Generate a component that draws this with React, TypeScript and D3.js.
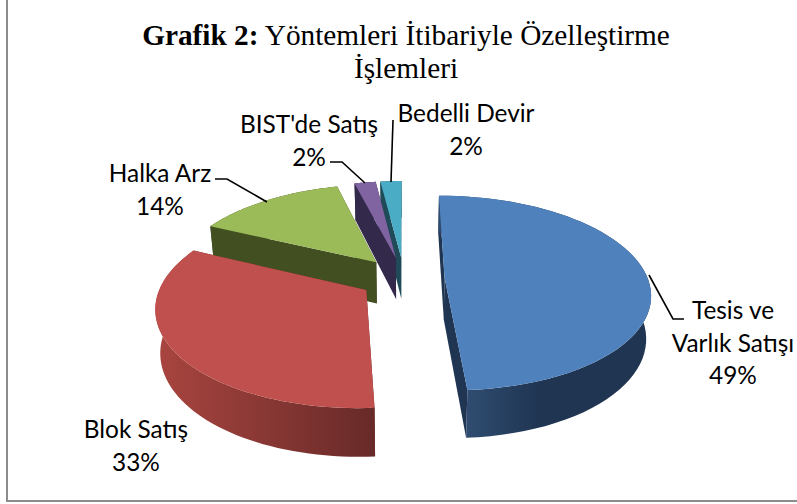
import React from "react";
import * as d3 from "d3";

const W = 797, H = 504;
const categories = ["Tesis ve Varlık Satışı", "Blok Satış", "Halka Arz", "BIST'de Satış", "Bedelli Devir"];
const values = [49, 33, 14, 2, 2];
const explode = [0.2, 0.22, 0.22, 0.22, 0.22];
const topColors = ["#4f81bd", "#c0504d", "#9bbb59", "#8064a2", "#4bacc6"];
const sideColors = ["#1f3552", "#672a28", "#414f21", "#33294a", "#1f4a57"];
const sideLight = ["#2f4c70", "#a8443f", "#414f21", "#33294a", "#1f4a57"];
const labelLines = [["Tesis ve", "Varlık Satışı", "49%"], ["Blok Satış", "33%"], ["Halka Arz", "14%"], ["BIST'de Satış", "2%"], ["Bedelli Devir", "2%"]];
const labelAnchors = [[733, 319], [136, 438], [160, 182], [309, 133], [466, 122]];
const leaders = [
  [[649, 275], [673, 319], [684, 319]],
  [],
  [[267, 202], [227, 179], [215, 179]],
  [[365, 183], [342, 162], [330, 162]],
  [[391, 182], [393, 120]],
];

// 3D projection parameters
const VX = 404, CY = 278, RX = 203, RY = 95, PERSP = 0.16, DEPTH = 42, CONVERGE = 0.98;

function project(X: number, Y: number, bottom: boolean): [number, number] {
  const w = 1 - PERSP * Y;
  const x = (RX * X) / w;
  const y = CY + (RY * Y) / w;
  return bottom ? [VX + x * CONVERGE, y + DEPTH / Math.pow(w, 0.75)] : [VX + x, y];
}

const line = d3.line<[number, number]>();

export default function App() {
  const pie = d3.pie<number>().sort(null).startAngle(0).endAngle(2 * Math.PI)(values);

  const slices = pie.map((p, i) => {
    const mid = (p.startAngle + p.endAngle) / 2;
    const cx = explode[i] * Math.sin(mid), cy = -explode[i] * Math.cos(mid);
    const angles = d3.range(0, 61).map((k) => p.startAngle + ((p.endAngle - p.startAngle) * k) / 60);
    const rim = (bottom: boolean) =>
      angles.map((a) => project(cx + Math.sin(a), cy - Math.cos(a), bottom));
    const topRim = rim(false), botRim = rim(true);
    const cTop = project(cx, cy, false), cBot = project(cx, cy, true);
    const top = line([cTop, ...topRim]) + "Z";
    const outer = line([...topRim, ...[...botRim].reverse()]) + "Z";
    const wallA = line([cTop, topRim[0], botRim[0], cBot]) + "Z";
    const wallB = line([cTop, topRim[60], botRim[60], cBot]) + "Z";
    const [x0, x1] = d3.extent(botRim.map((q) => q[0])) as [number, number];
    return { i, top, outer, wallA, wallB, x0, x1 };
  });

  const order = [4, 3, 2, 1, 0];

  return (
    <svg width={W} height={H} style={{ position: "absolute", left: 0, top: 0 }}>
      <rect width={W} height={H} fill="#fff" />
      <path d="M7,0V501H797" fill="none" stroke="#8c8c8c" strokeWidth={2} />
      <defs>
        {slices.map((s) => (
          <linearGradient
            key={s.i}
            id={`g${s.i}`}
            gradientUnits="userSpaceOnUse"
            x1={s.i === 0 ? 468 : s.x0}
            x2={s.i === 0 ? 540 : s.x1}
            y1={0}
            y2={0}
          >
            <stop offset="0" stopColor={sideLight[s.i]} />
            <stop offset="1" stopColor={sideColors[s.i]} />
          </linearGradient>
        ))}
      </defs>
      {order.map((i) => {
        const s = slices[i];
        return (
          <g key={categories[i]}>
            <path d={s.wallA} fill={sideColors[i]} />
            <path d={s.wallB} fill={sideColors[i]} />
            <path d={s.outer} fill={`url(#g${i})`} />
            <path d={s.top} fill={topColors[i]} />
          </g>
        );
      })}
      {leaders.map((l, i) =>
        l.length ? (
          <path key={i} d={line(l as [number, number][]) ?? ""} fill="none" stroke="#000" strokeWidth={1.6} />
        ) : null
      )}
      <g fontFamily="'Liberation Serif', serif" fontSize={29.3} textAnchor="middle" fill="#000">
        <text x={406} y={45}>
          <tspan fontWeight="bold">Grafik 2:</tspan> Yöntemleri İtibariyle Özelleştirme
        </text>
        <text x={406} y={78}>İşlemleri</text>
      </g>
      <g fontFamily="Lato, sans-serif" fontSize={24.4} textAnchor="middle" fill="#000">
        {labelLines.map((lines, i) => (
          <text key={i} x={labelAnchors[i][0]} y={labelAnchors[i][1]}>
            {lines.map((t, k) => (
              <tspan key={k} x={labelAnchors[i][0]} dy={k === 0 ? 0 : 32.5}>{t}</tspan>
            ))}
          </text>
        ))}
      </g>
    </svg>
  );
}
